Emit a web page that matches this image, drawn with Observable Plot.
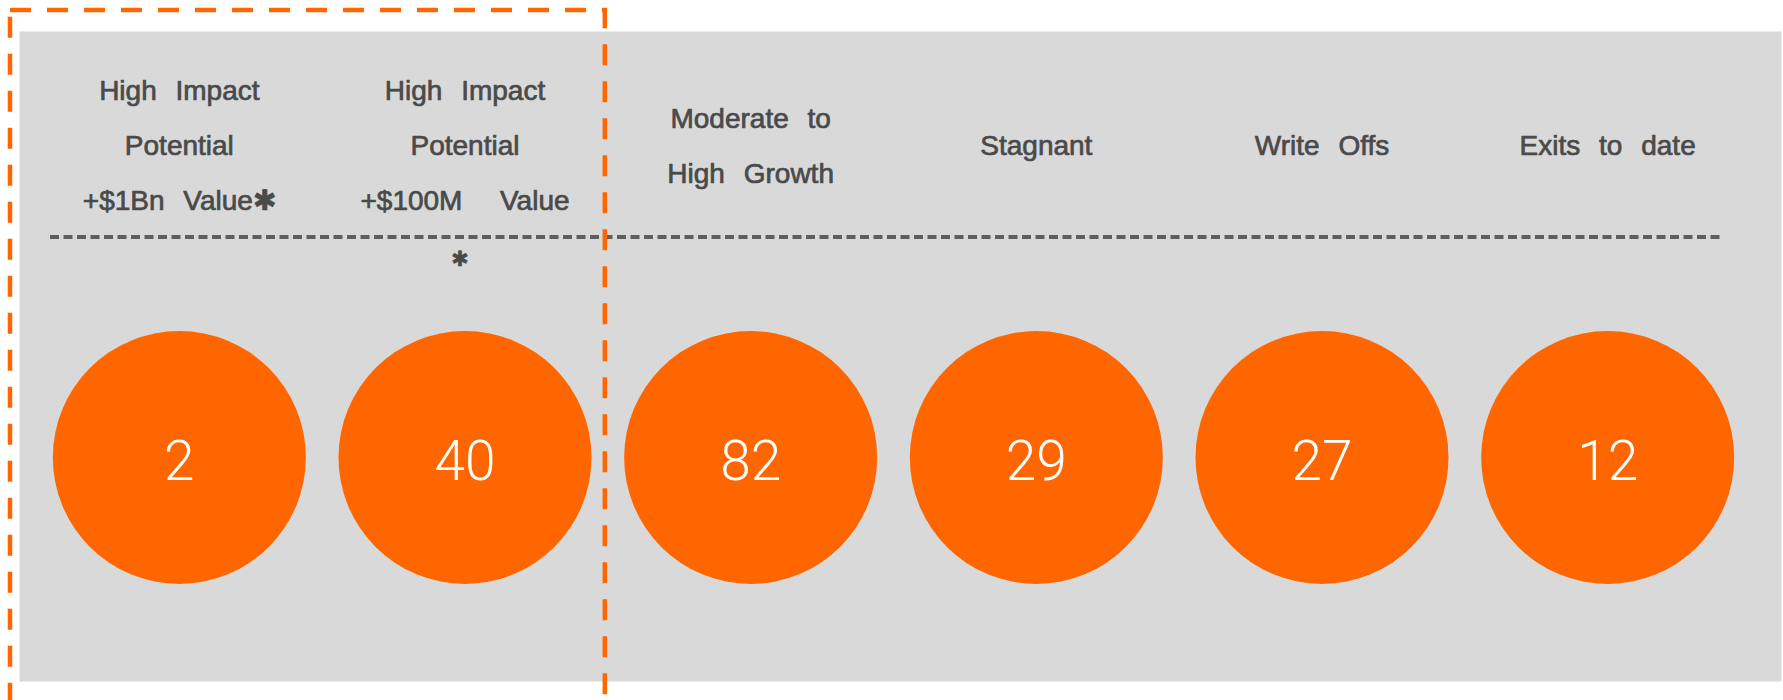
<!DOCTYPE html>
<html>
<head>
<meta charset="utf-8">
<script src="https://cdn.jsdelivr.net/npm/d3@7"></script>
<script src="https://cdn.jsdelivr.net/npm/@observablehq/plot@0.6"></script>
<style>
  html, body { margin: 0; padding: 0; background: #ffffff; }
  #chart svg { display: block; }
  #chart svg text.lbl, #chart svg g.lbl text { word-spacing: 11px; }
</style>
</head>
<body>
<div id="chart"></div>
<script>
// ---- data ----
const categories = [
  "High Impact Potential +$1Bn Value",
  "High Impact Potential +$100M Value",
  "Moderate to High Growth",
  "Stagnant",
  "Write Offs",
  "Exits to date"
];
const labelLines = [
  "High Impact\nPotential\n+$1Bn Value\u2731",
  "High Impact\nPotential\n+$100M\u00A0\u00A0Value",
  "Moderate to\nHigh Growth",
  "Stagnant",
  "Write Offs",
  "Exits to date"
];
const counts = [2, 40, 82, 29, 27, 12];
const highlighted = ["High Impact Potential +$1Bn Value", "High Impact Potential +$100M Value"];
const notes = [{category: "High Impact Potential +$100M Value", text: "\u2731"}];

// ---- derived table ----
const rows = categories.map((c, i) => ({category: c, label: labelLines[i], count: counts[i]}));
const idx = (c) => categories.indexOf(c);
const box = [{first: highlighted[0], last: highlighted[highlighted.length - 1]}];

const ORANGE = "#ff6600";
const TEXT = "#4a4a4a";

const chart = Plot.plot({
  width: 1783,
  height: 700,
  marginLeft: 19,
  marginRight: 2,
  marginTop: 31,
  marginBottom: 19,
  x: {type: "linear", domain: [-0.5, categories.length - 0.5], range: [36, 1750], axis: null},
  marks: [
    Plot.frame({fill: "#d9d9d9", stroke: "none"}),
    // header labels
    Plot.text(rows, {
      x: (d) => idx(d.category),
      text: "label",
      frameAnchor: "top",
      dy: 106,
      lineAnchor: "middle",
      lineHeight: 1.96,
      fontSize: 28,
      fontFamily: "Liberation Sans, Arial, sans-serif",
      fill: TEXT,
      stroke: TEXT,
      strokeWidth: 0.7,
      className: "lbl"
    }),
    // dashed divider
    Plot.ruleY([0], {y: null, dy: -119.5, insetLeft: 31, insetRight: 57, stroke: "#5e5e5e", strokeWidth: 3.8, strokeDasharray: "9 4.5"}),
    // footnote marker
    Plot.text(notes, {
      x: (d) => idx(d.category),
      text: "text",
      frameAnchor: "top",
      dy: 228,
      dx: -5,
      lineAnchor: "middle",
      fontSize: 21,
      fontFamily: "DejaVu Sans, sans-serif",
      fill: TEXT,
      stroke: TEXT,
      strokeWidth: 0.5
    }),
    // circles
    Plot.dot(rows, {
      x: (d) => idx(d.category),
      frameAnchor: "middle",
      dy: 101,
      r: 126.5,
      fill: ORANGE,
      stroke: "none"
    }),
    // counts
    Plot.text(rows, {
      x: (d) => idx(d.category),
      text: (d) => String(d.count),
      frameAnchor: "middle",
      dy: 106,
      lineAnchor: "middle",
      fontSize: 55,
      fontWeight: 300,
      fontFamily: "Roboto, sans-serif",
      fill: "#ffffff"
    }),
    // highlight box
    Plot.rect(box, {
      x1: (d) => idx(d.first) - 0.5,
      x2: (d) => idx(d.last) + 0.5,
      insetLeft: -26,
      insetRight: 2.5,
      insetTop: -21,
      insetBottom: -80,
      fill: "none",
      stroke: ORANGE,
      strokeWidth: 4.5,
      strokeDasharray: "21 16"
    })
  ]
});
document.getElementById("chart").appendChild(chart);
</script>
</body>
</html>
